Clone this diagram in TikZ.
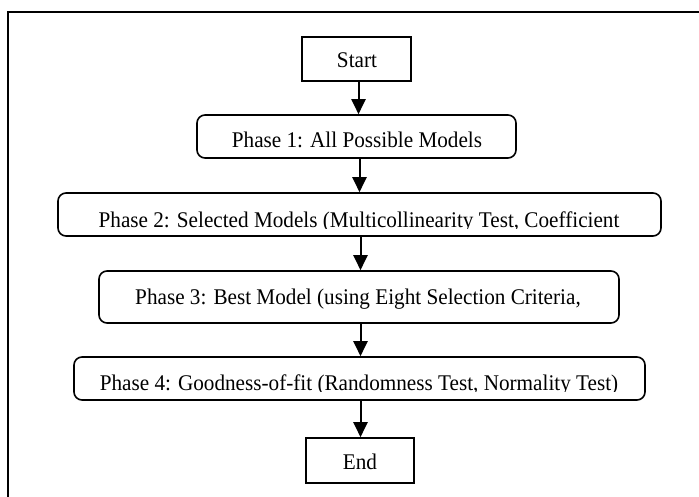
\documentclass[tikz,border=0pt]{standalone}
\usepackage{fontspec}
\setmainfont{Liberation Serif}[FakeStretch=0.946]
\usetikzlibrary{arrows.meta}
\begin{document}
\begin{tikzpicture}[x=1pt,y=-1pt,
  box/.style={draw, line width=1.6pt, inner sep=0pt, text=black},
  rbox/.style={box, rounded corners=8pt},
  lbl/.style={inner sep=0pt, anchor=base, font=\fontsize{22.4}{25}\selectfont},
  arr/.style={line width=2pt, -{Triangle[width=14pt,length=15pt]}}]
\useasboundingbox (0,0) rectangle (699,496);
\clip (0,0) rectangle (699,496);
% outer frame (right and bottom edges lie outside the picture)
\draw[line width=2.5pt] (8,520) -- (8,12) -- (720,12);
% boxes
\node[box,  minimum width=109pt, minimum height=44pt] (start) at (356.5,59) {};
\node[rbox, minimum width=319pt, minimum height=43pt] (p1) at (356.5,136.5) {};
\node[rbox, minimum width=603pt, minimum height=43pt] (p2) at (359.5,214.5) {};
\node[rbox, minimum width=520pt, minimum height=52pt] (p3) at (359,297) {};
\node[rbox, minimum width=571pt, minimum height=43pt] (p4) at (359.5,378.5) {};
\node[box,  minimum width=108pt, minimum height=45pt] (end) at (360,460.5) {};
% texts
\node[lbl] (tstart) at (357,67) {Start};
\node[lbl] (tp1) at (357,147.5) {Phase 1: All Possible Models};
\begin{scope}
\clip (60,195) rectangle (659,228.5);
\node[lbl] (tp2) at (359,227) {Phase 2: Selected Models (Multicollinearity Test, Coefficient};
\end{scope}
\node[lbl] (tp3) at (358,304) {Phase 3: Best Model (using Eight Selection Criteria,};
\begin{scope}
\clip (76,359) rectangle (643,391.5);
\node[lbl] (tp4) at (359,390) {Phase 4: Goodness-of-fit (Randomness Test, Normality Test)};
\end{scope}
\node[lbl] (tend) at (360,469) {End};
% arrow columns
\coordinate (c1) at (358.5,0);
\coordinate (c2) at (359.5,0);
\coordinate (c3) at (360.5,0);
\coordinate (c4) at (360.5,0);
\coordinate (c5) at (360.5,0);
\draw[arr] (start.south -| c1) -- (p1.north -| c1);
\draw[arr] (p1.south -| c2) -- (p2.north -| c2);
\draw[arr] (p2.south -| c3) -- (p3.north -| c3);
\draw[arr] (p3.south -| c4) -- (p4.north -| c4);
\draw[arr] (p4.south -| c5) -- (end.north -| c5);
\end{tikzpicture}
\end{document}
